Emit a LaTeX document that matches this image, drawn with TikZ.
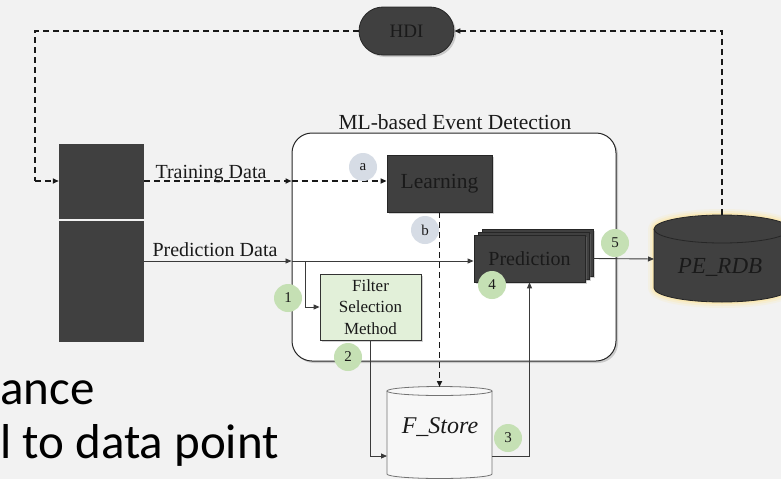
\documentclass[tikz,border=0pt]{standalone}
\usepackage{fontspec}
\setmainfont{Liberation Serif}
\newfontfamily\slidefont{Carlito}
\usetikzlibrary{arrows.meta,shadows,calc}
\definecolor{bgc}{HTML}{F2F2F2}
\definecolor{darkc}{HTML}{404040}
\definecolor{txtc}{HTML}{1A1A1A}
\definecolor{greenc}{HTML}{C5E0B4}
\definecolor{bluec}{HTML}{D6DCE5}
\definecolor{filtc}{HTML}{E2F0D9}
\definecolor{glowc}{HTML}{FFE699}
\definecolor{linec}{HTML}{3A3A3A}
\tikzset{
  x=1pt, y=1pt,
  tip/.style={-{Triangle[length=6pt,width=5pt]}},
  shade2/.style={drop shadow={shadow xshift=2pt,shadow yshift=-2pt,opacity=0.35}},
  darkbox/.style={draw=black!85, line width=0.8pt, fill=darkc, text=txtc, inner sep=0pt, shade2},
  dashline/.style={line width=1.6pt, dash pattern=on 6pt off 4pt, draw=black!90, tip},
  solidline/.style={line width=0.9pt, draw=linec, tip},
  circg/.style={circle, fill=greenc, minimum size=28pt, inner sep=0pt, text=txtc, font=\fontsize{15}{15}\selectfont},
  circb/.style={circle, fill=bluec, minimum size=28pt, inner sep=0pt, text=txtc, font=\fontsize{15}{15}\selectfont},
  lbl/.style={text=txtc, inner sep=0pt},
}
\begin{document}
\begin{tikzpicture}
\useasboundingbox[fill=bgc] (0,0) rectangle (781,-479);

% slide text remnants
\node[anchor=base west, inner sep=0pt, text=black, font=\slidefont\fontsize{49}{49}\selectfont] (s1) at (0,-404) {ance};
\node[anchor=base west, inner sep=0pt, text=black, font=\slidefont\fontsize{49}{49}\selectfont] (s2) at (0,-458) {l to data point};

% left data source
\node[fill=darkc, minimum width=85pt, minimum height=75pt, inner sep=0pt] (ltop) at (101.5,-181.5) {};
\node[fill=darkc, minimum width=85pt, minimum height=121pt, inner sep=0pt] (lbot) at (101.5,-281.5) {};

% ML box
\node[draw=black!85, line width=1pt, fill=white, rounded corners=20pt, minimum width=324pt, minimum height=228pt, inner sep=0pt, shade2] (ml) at (454,-247) {};
\node[lbl, anchor=base, font=\fontsize{21.5}{22}\selectfont] (mltitle) at (455,-129) {ML-based Event Detection};

% HDI
\node[darkbox, rounded corners=24pt, minimum width=95pt, minimum height=48pt, font=\fontsize{19}{19}\selectfont] (hdi) at (406.5,-31) {HDI};

% Learning
\node[darkbox, minimum width=105pt, minimum height=57pt, font=\fontsize{21.5}{22}\selectfont] (learn) at (439.5,-183.5) {Learning};

% Prediction stack
\node[darkbox, minimum width=111pt, minimum height=47pt] (predb) at (537.5,-252.5) {};
\node[darkbox, minimum width=111pt, minimum height=47pt] (predm) at (533.5,-255.5) {};
\node[darkbox, minimum width=111pt, minimum height=47pt, font=\fontsize{20}{20}\selectfont] (pred) at (529.5,-258.5) {Prediction};

% Filter
\node[draw=black!80, line width=0.8pt, fill=filtc, minimum width=101pt, minimum height=66pt, inner sep=0pt, align=center, text=txtc, font=\fontsize{17}{21.5}\selectfont, shade2] (filt) at (370.5,-307) {Filter\\Selection\\Method};

% F_Store cylinder
\coordinate (fsTop) at (439.5,-387);
\coordinate (fsW) at (387,-456);
\coordinate (fsE) at (492,-456);
\fill[white!97!black] (387,-391) -- (387,-474) arc[start angle=180,end angle=360,x radius=52.5,y radius=4.5] -- (492,-391) arc[start angle=0,end angle=180,x radius=52.5,y radius=4.5] -- cycle;
\draw[black!55, line width=0.8pt] (387,-391) -- (387,-474) arc[start angle=180,end angle=360,x radius=52.5,y radius=4.5] -- (492,-391);
\draw[black!55, line width=0.8pt] (439.5,-391) ellipse[x radius=52.5,y radius=4.5];
\node[lbl, font=\itshape\fontsize{24}{24}\selectfont] (fs) at (440,-427) {F\_Store};

% PE_RDB cylinder with glow
\coordinate (peTop) at (722,-215);
\coordinate (peW) at (654,-259);
\foreach \w/\o in {12/0.15,8/0.25,4/0.45}{
  \draw[glowc, line width=\w pt, opacity=\o, line join=round] (654,-229) -- (654,-288) arc[start angle=180,end angle=360,x radius=68,y radius=14] -- (790,-229) arc[start angle=0,end angle=180,x radius=68,y radius=14] -- cycle;
}
\draw[black!85, line width=0.8pt, fill=darkc] (654,-229) -- (654,-288) arc[start angle=180,end angle=360,x radius=68,y radius=14] -- (790,-229) arc[start angle=0,end angle=180,x radius=68,y radius=14] -- cycle;
\draw[black!85, line width=0.8pt] (654,-229) arc[start angle=180,end angle=360,x radius=68,y radius=14];
\node[lbl, font=\itshape\fontsize{23}{23}\selectfont] (pe) at (720,-267) {PE\_RDB};

% connectors
\draw[dashline, -] (hdi.west) -- (35,-31) coordinate (c1) -- (35,-181) coordinate (c2);
\draw[dashline] (c2) -- (ltop.west |- c2);
\coordinate (td0) at (ltop.east |- 0,-181);
\draw[dashline] (td0) -- (td0 -| ml.west);
\draw[dashline] (td0 -| ml.west) -- (td0 -| learn.west);
\draw[dashline] (peTop) |- (hdi.east);
\draw[dashline] (learn.south) -- (fsTop);

\coordinate (pd0) at (lbot.east |- 0,-261);
\draw[solidline] (pd0) -- (pd0 -| ml.west);
\draw[solidline] (pd0 -| ml.west) -- (pd0 -| pred.west);
\coordinate (br) at (305,-261);
\draw[solidline] (br) |- (filt.west);
\draw[solidline] (filt.south) |- (fsW);
\draw[solidline] (fsE) -| (pred.south);
\draw[solidline] (predb.east |- pred.east) -- (peW);

% labels
\node[lbl, anchor=base, font=\fontsize{20}{20}\selectfont] (tdl) at (211,-178) {Training Data};
\node[lbl, anchor=base, font=\fontsize{20}{20}\selectfont] (pdl) at (215,-256) {Prediction Data};

% circles
\node[circb] (ca) at (363,-167) {a};
\node[circb] (cb) at (425,-230) {b};
\node[circg] (c1n) at (288,-298) {1};
\node[circg] (c2n) at (348,-357) {2};
\node[circg] (c3n) at (508,-438) {3};
\node[circg] (c4n) at (492,-285) {4};
\node[circg] (c5n) at (615,-243) {5};
\end{tikzpicture}
\end{document}
